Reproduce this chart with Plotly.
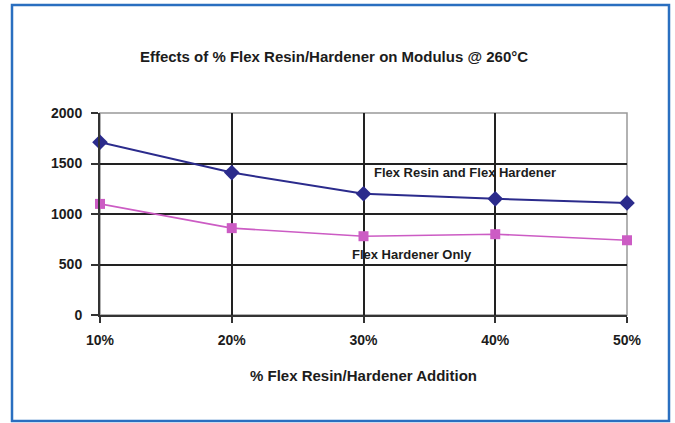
import plotly.graph_objects as go

# Flex resin / hardener addition levels (percent)
additions = [10, 20, 30, 40, 50]
addition_labels = ["10%", "20%", "30%", "40%", "50%"]

# Modulus at 260°C for each formulation
resin_and_hardener = [1710, 1410, 1200, 1150, 1110]
hardener_only = [1100, 860, 780, 800, 740]

y_ticks = [0, 500, 1000, 1500, 2000]

FONT = "Liberation Sans, Arial, sans-serif"
TEXT = "#1c1c1c"
W, H = 675, 423
L, R, T, B = 100, 48, 113, 108
pw, ph = W - L - R, H - T - B

fig = go.Figure()
fig.add_trace(go.Scatter(
    x=additions, y=resin_and_hardener, mode="lines+markers",
    name="Flex Resin and Flex Hardener",
    line=dict(color="#2b2b8c", width=2),
    marker=dict(symbol="diamond", size=12, color="#2b2b8c"),
    cliponaxis=False,
))
fig.add_trace(go.Scatter(
    x=additions, y=hardener_only, mode="lines+markers",
    name="Flex Hardener Only",
    line=dict(color="#cc5cc4", width=1.6),
    marker=dict(symbol="square", size=10, color="#cc5cc4"),
    cliponaxis=False,
))

fig.add_annotation(x=30.65, y=1406, xref="x", yref="y", text="<b>Flex Resin and Flex Hardener</b>",
                   showarrow=False, xanchor="left", yanchor="middle",
                   font=dict(family=FONT, size=13, color=TEXT))
fig.add_annotation(x=28.95, y=604, xref="x", yref="y", text="<b>Flex Hardener Only</b>",
                   showarrow=False, xanchor="left", yanchor="middle",
                   font=dict(family=FONT, size=13, color=TEXT))

# outer frame around the chart
fig.add_shape(type="rect", xref="paper", yref="paper",
              x0=(12 - L) / pw, x1=(669 - L) / pw,
              y0=(T + ph - 421) / ph, y1=(T + ph - 5) / ph,
              line=dict(color="#2a6fc0", width=2.5), fillcolor="rgba(0,0,0,0)", layer="below")
# light top/right border of the plot area
fig.add_shape(type="rect", xref="paper", yref="paper", x0=0, x1=1, y0=0, y1=1,
              line=dict(color="#999999", width=1.5), fillcolor="rgba(0,0,0,0)", layer="below")

fig.update_layout(
    width=W, height=H,
    margin=dict(l=L, r=R, t=T, b=B),
    paper_bgcolor="white", plot_bgcolor="white",
    showlegend=False,
    title=dict(text="<b>Effects of % Flex Resin/Hardener on Modulus @ 260°C</b>",
               x=(334 - L) / pw, xref="paper", xanchor="center",
               y=1 - 57 / H, yref="container", yanchor="middle",
               font=dict(family=FONT, size=15, color=TEXT)),
    xaxis=dict(
        range=[10, 50], tickvals=additions, ticktext=addition_labels,
        showgrid=True, gridcolor="#222222", gridwidth=2,
        showline=True, linecolor="#333333", linewidth=2,
        ticks="outside", ticklen=6, tickwidth=2, tickcolor="#333333",
        ticklabelstandoff=5,
        zeroline=False,
        tickfont=dict(family=FONT, size=14, color=TEXT, weight="bold"),
        title=dict(text="<b>% Flex Resin/Hardener Addition</b>", standoff=24,
                   font=dict(family=FONT, size=15, color=TEXT)),
    ),
    yaxis=dict(
        range=[0, 2000], tickvals=y_ticks,
        showgrid=True, gridcolor="#222222", gridwidth=2,
        showline=True, linecolor="#333333", linewidth=2,
        ticks="outside", ticklen=7, tickwidth=2, tickcolor="#333333",
        ticklabelstandoff=6,
        zeroline=False,
        tickfont=dict(family=FONT, size=14, color=TEXT, weight="bold"),
    ),
)

fig.write_html("out.html")
